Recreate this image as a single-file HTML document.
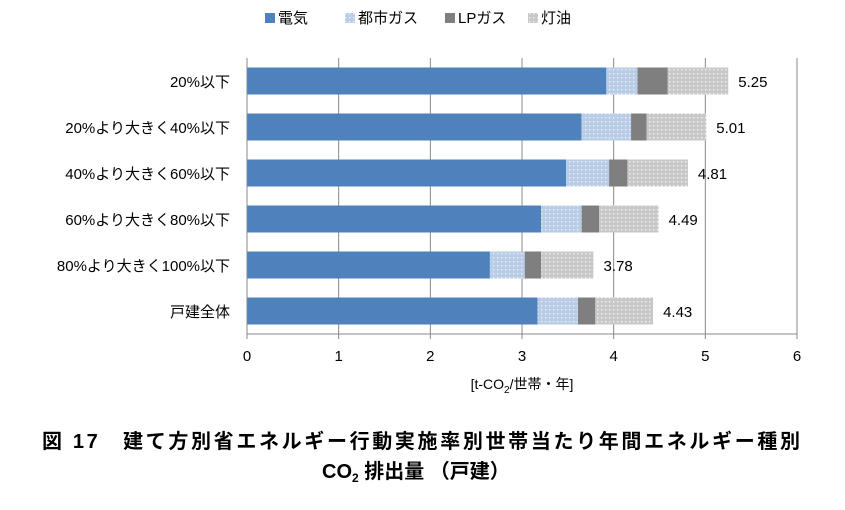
<!DOCTYPE html>
<html><head><meta charset="utf-8"><style>
body{margin:0;background:#fff;}
svg text{font-family:"Liberation Sans","Noto Sans CJK JP",sans-serif;fill:#000;}
</style></head><body>
<svg width="845" height="505">
<defs>
<pattern id="pg" width="4" height="4" patternUnits="userSpaceOnUse"><rect width="4" height="4" fill="#b9cde6"/><rect x="1" y="1" width="1.3" height="1.3" fill="#eef3fa"/></pattern>
<pattern id="pk" width="4" height="4" patternUnits="userSpaceOnUse"><rect width="4" height="4" fill="#c8c8c8"/><rect x="1" y="1" width="1.4" height="1.4" fill="#f2f2f2"/></pattern>
</defs>
<g id="legend"></g>
<g id="grid"></g><g id="bars"></g><g id="axes"></g>
<text x="522" y="389" text-anchor="middle" font-size="14">[t-CO<tspan font-size="10" dy="4">2</tspan><tspan dy="-4">/世帯・年]</tspan></text>
<text x="42" y="448" font-size="20" font-weight="bold" textLength="758" lengthAdjust="spacing">図 17　建て方別省エネルギー行動実施率別世帯当たり年間エネルギー種別</text>
<text x="322" y="478" font-size="20" font-weight="bold">CO<tspan font-size="12" dy="4">2</tspan><tspan dy="-4"> 排出量 （戸建）</tspan></text>
</svg>
<script>
const categories=["20%以下","20%より大きく40%以下","40%より大きく60%以下","60%より大きく80%以下","80%より大きく100%以下","戸建全体"];
const elec=[3.92,3.65,3.48,3.21,2.65,3.17];
const gas=[0.34,0.54,0.47,0.44,0.38,0.44];
const lp=[0.33,0.17,0.20,0.19,0.18,0.19];
const kero=[0.66,0.65,0.66,0.65,0.57,0.63];
const totals=["5.25","5.01","4.81","4.49","3.78","4.43"];
const ticks=[0,1,2,3,4,5,6];
const seriesNames=["電気","都市ガス","LPガス","灯油"];
const fills=["#4f81bd","url(#pg)","#7f7f7f","url(#pk)"];
const NS="http://www.w3.org/2000/svg";
const x0=247,x1=797,plotTop=58,plotBottom=334,pitch=46;
const xs=v=>x0+(v-0)/(6-0)*(x1-x0);
const yc=i=>plotTop+23+i*pitch;
function mk(t,a,p){const e=document.createElementNS(NS,t);for(const k in a)e.setAttribute(k,a[k]);p.appendChild(e);return e;}
const grid=document.getElementById('grid'),bars=document.getElementById('bars'),axes=document.getElementById('axes'),leg=document.getElementById('legend');
ticks.forEach(t=>{
 if(t>0){const g=mk('line',{x1:xs(t),x2:xs(t),y1:plotTop,y2:plotBottom,stroke:'#888','stroke-width':1},grid);
 
 }
 const tk=mk('line',{x1:xs(t),x2:xs(t),y1:plotBottom,y2:plotBottom+5,stroke:'#888'},axes);
 
 
 const tl=mk('text',{x:xs(t),y:plotBottom+27,'text-anchor':'middle','font-size':15},axes);tl.textContent=t;
 
 
});
const ax=mk('line',{x1:x0,x2:x1,y1:plotBottom,y2:plotBottom,stroke:'#888'},axes);


const ay=mk('line',{x1:x0,x2:x0,y1:plotTop,y2:plotBottom,stroke:'#888'},axes);


const series=[elec,gas,lp,kero];
categories.forEach((c,i)=>{
 let acc=0;
 series.forEach((s,k)=>{
  const r=mk('rect',{x:xs(acc),y:yc(i)-13.5,width:xs(acc+s[i])-xs(acc),height:27,fill:fills[k]},bars);
  
  
  acc+=s[i];
 });
 const lv=mk('text',{x:xs(acc)+10,y:yc(i)+6,'font-size':15},bars);lv.textContent=totals[i];
 
 
 const cl=mk('text',{x:x0-17,y:yc(i)+6,'text-anchor':'end','font-size':15},axes);cl.textContent=c;
 
 
});
const lx=[265,345,445,528];
seriesNames.forEach((n,k)=>{
 const g=mk('g',{},leg);
 
 
 mk('rect',{x:lx[k],y:13,width:10,height:10,fill:fills[k]},g);
 const t=mk('text',{x:lx[k]+13,y:23,'font-size':15},g);t.textContent=n;
});
</script>
</body></html>
